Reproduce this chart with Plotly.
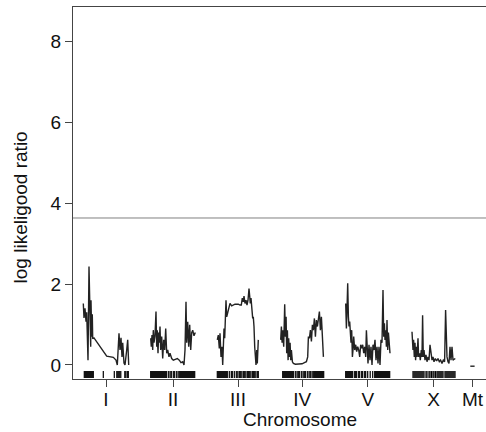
import plotly.graph_objects as go

# ---------------- data ----------------
chr_names = ["I", "II", "III", "IV", "V", "X", "Mt"]
chr_lengths = [45.4, 44.6, 41.4, 43.0, 44.3, 43.3, 4.3]
threshold = 3.63

# LOD profiles: positions (cM within chromosome) and values
pos_I = [0.0, 0.7, 1.7, 2.7, 3.4, 4.0, 4.7, 5.7, 6.4, 6.7, 7.4, 7.7, 8.4, 9.0, 9.4, 10.7, 13.4,
         20.0, 23.4, 30.0, 32.7, 34.0, 35.7, 36.7, 37.7, 38.7, 39.4, 40.7, 41.7, 43.4, 44.4, 45.4]
lod_I = [1.52, 1.16, 1.40, 1.07, 1.30, 0.86, 0.12, 2.43, 1.20, 1.69, 0.45, 1.60, 0.70, 1.25, 0.65, 0.67, 0.58,
         0.33, 0.22, 0.19, 0.12, 0.00, 0.78, 0.37, 0.67, 0.20, 0.55, 0.05, 0.00, 0.37, 0.62, 0.00]

pos_II = [0.0, 0.6, 1.3, 2.0, 2.6, 3.3, 4.3, 5.3, 6.0, 6.6, 7.3, 8.0, 8.6, 9.3, 10.0, 11.0, 12.0, 13.0, 14.0,
          15.0, 16.0, 17.0, 18.3, 19.3, 21.0, 22.6, 24.6, 26.6, 28.6, 30.3, 32.0, 33.3, 34.3, 35.3, 36.0,
          37.0, 38.0, 39.0, 40.0, 41.0, 42.0, 43.3, 44.6]
lod_II = [0.66, 0.45, 0.74, 0.37, 0.86, 0.55, 0.72, 1.32, 0.45, 0.86, 0.29, 0.80, 0.55, 0.95, 0.37, 0.70, 0.16,
          0.62, 0.37, 0.90, 0.29, 0.37, 0.20, 0.29, 0.16, 0.12, 0.14, 0.16, 0.12, 0.06, 0.08, 0.00, 0.37, 1.56,
          0.55, 1.07, 0.45, 0.99, 0.37, 0.80, 0.86, 0.72, 0.80]

pos_III = [0.0, 1.0, 2.0, 2.7, 3.7, 4.7, 5.4, 6.0, 6.7, 7.4, 8.0, 8.7, 9.4, 10.4, 11.4, 12.7, 14.4, 16.0,
           17.7, 19.4, 21.0, 22.7, 24.0, 25.0, 26.0, 26.7, 27.7, 28.7, 29.7, 30.7, 31.7, 32.4, 33.0, 33.7,
           34.7, 35.4, 36.0, 36.7, 37.4, 38.0, 38.7, 39.4, 40.0, 41.0]
lod_III = [0.62, 0.74, 0.41, 0.78, 0.20, 0.45, 0.00, 0.70, 0.90, 0.66, 1.19, 1.60, 1.19, 1.32, 1.44, 1.52,
           1.46, 1.48, 1.50, 1.50, 1.50, 1.48, 1.48, 1.65, 1.56, 1.70, 1.52, 1.60, 1.48, 1.60, 1.89, 1.70,
           1.52, 1.65, 1.28, 1.15, 1.19, 0.95, 0.45, 0.04, 0.00, 0.37, 0.04, 0.62]

pos_IV = [0.0, 0.7, 1.4, 2.0, 3.0, 4.0, 4.7, 5.4, 6.0, 6.7, 7.4, 8.0, 8.7, 9.4, 10.0, 10.7, 11.7, 12.7,
          14.7, 18.0, 21.4, 23.7, 25.7, 27.0, 27.7, 28.7, 29.7, 30.7, 31.7, 32.7, 33.7, 34.7, 35.7, 36.7,
          37.7, 38.7, 39.7, 40.7, 41.7, 42.7]
lod_IV = [0.62, 0.95, 0.55, 0.86, 0.45, 1.50, 0.70, 1.19, 0.29, 0.86, 0.12, 0.66, 0.20, 0.55, 0.12, 0.37,
          0.08, 0.04, 0.02, 0.02, 0.03, 0.06, 0.08, 0.20, 0.70, 0.66, 0.86, 0.58, 0.99, 0.86, 1.15, 0.70,
          1.11, 0.95, 1.15, 1.32, 0.86, 1.19, 0.70, 0.20]

pos_V = [0.0, 0.7, 1.3, 2.0, 2.7, 3.3, 4.0, 4.7, 5.3, 6.0, 6.7, 7.3, 8.0, 9.0, 10.0, 11.0, 12.0, 13.0,
         14.0, 15.0, 16.0, 17.0, 18.0, 19.0, 20.0, 20.7, 21.3, 22.3, 23.3, 24.3, 25.3, 26.3, 27.3, 28.3,
         29.3, 30.3, 31.3, 32.3, 33.3, 34.3, 35.3, 36.3, 37.3, 38.0, 38.7, 39.3, 40.0, 40.7, 41.3, 42.0,
         42.7, 43.3, 44.3]
lod_V = [1.52, 0.90, 1.36, 2.02, 1.19, 0.95, 1.07, 0.86, 0.55, 0.86, 0.20, 0.37, 0.70, 0.37, 0.50, 0.33,
         0.45, 0.37, 0.20, 0.50, 0.41, 0.50, 0.29, 0.45, 0.20, 0.86, 0.37, 0.04, 0.50, 0.12, 0.45, 0.00,
         0.50, 0.37, 0.62, 0.12, 0.45, 0.04, 0.45, 0.00, 0.62, 0.55, 1.85, 0.70, 1.03, 0.62, 0.86, 0.45,
         1.11, 0.37, 0.80, 0.45, 0.29]

pos_X = [0.0, 1.0, 1.6, 2.3, 3.0, 3.6, 4.3, 5.0, 6.0, 6.6, 7.6, 8.3, 9.3, 10.0, 10.6, 11.3, 12.0, 13.0,
         14.0, 15.0, 16.0, 17.0, 18.0, 19.0, 20.0, 21.0, 22.0, 23.3, 24.6, 26.0, 27.3, 28.6, 30.0, 31.3,
         32.6, 33.6, 34.3, 35.0, 36.0, 37.0, 38.0, 39.0, 40.0, 41.0, 42.0, 43.3]
lod_X = [0.82, 0.37, 0.62, 0.20, 0.55, 0.12, 0.45, 0.20, 0.66, 0.20, 0.29, 0.12, 0.37, 0.20, 1.23, 0.20,
         0.37, 0.12, 0.25, 0.08, 0.20, 0.12, 0.50, 0.20, 0.12, 0.20, 0.08, 0.16, 0.10, 0.16, 0.08, 0.12,
         0.04, 0.12, 0.08, 1.36, 0.37, 0.20, 0.08, 0.04, 0.45, 0.12, 0.45, 0.12, 0.14, 0.16]

pos_Mt = [0.0, 4.3]
lod_Mt = [-0.03, -0.03]

# genetic marker positions (rug), cM within chromosome
mk_I = [1, 2, 3, 4, 5, 6, 7, 8, 9, 10, 20, 31, 33.5, 34.5, 35.5, 36.5, 37.5, 41.5, 42.5, 44, 45]
mk_II = [0, 1, 2, 3, 4, 5, 6, 7, 8, 9, 10, 11, 12, 13, 14, 15, 16, 18, 19.5, 21, 23, 24, 26, 27.5,
         29, 30, 31, 32, 33, 34, 35, 36, 37, 38, 39, 40, 41, 42, 43, 44]
mk_III = [0, 1, 2, 3, 4, 5, 6, 7, 8, 9, 10, 12, 14, 15, 17, 19, 20.5, 22, 23, 24.5, 26, 27, 28.5,
          30, 31, 32, 33.5, 35, 36, 37, 38.5, 40, 41]
mk_IV = [2, 3, 4, 5, 6, 7, 8, 9, 10, 11, 12, 13, 15, 16.5, 18, 19, 21, 22.5, 24, 25, 27, 28.5, 30,
         31.5, 33, 34, 35, 36, 37, 38, 39, 40, 41, 42, 43]
mk_V = [0, 1, 2, 3, 4, 5, 6, 7, 9, 10, 11, 13, 14, 16, 17, 19, 20, 22, 24.5, 27, 29, 30, 31, 32, 33,
        34, 35, 36, 37, 38, 39, 40, 41, 42, 43, 44]
mk_X = [1, 2, 3, 4, 5, 6, 7, 8, 9, 10, 11, 12, 14, 15, 17, 18, 19.5, 21, 22, 23.5, 25, 26, 27, 28,
        29, 30, 31, 33, 34, 35, 36, 37, 38, 39, 40, 41, 42, 43]
mk_Mt = []

# ---------------- layout helpers ----------------
gaps_before = [10.3, 22, 22, 22, 22, 22, 15]
offsets = []
acc = 0.0
for g, L in zip(gaps_before, chr_lengths):
    acc += g
    offsets.append(acc)
    acc += L

positions = [pos_I, pos_II, pos_III, pos_IV, pos_V, pos_X, pos_Mt]
lods = [lod_I, lod_II, lod_III, lod_IV, lod_V, lod_X, lod_Mt]
markers = [mk_I, mk_II, mk_III, mk_IV, mk_V, mk_X, mk_Mt]

fig = go.Figure()

lx, ly = [], []
for off, p, v in zip(offsets, positions, lods):
    lx += [off + q for q in p] + [None]
    ly += list(v) + [None]
fig.add_trace(go.Scatter(x=lx, y=ly, mode="lines",
                         line=dict(color="#222222", width=1.4), hoverinfo="skip", showlegend=False))

rx, ry = [], []
for off, mk in zip(offsets, markers):
    for m in mk:
        rx += [off + m, off + m, None]
        ry += [-0.15, -0.32, None]
fig.add_trace(go.Scatter(x=rx, y=ry, mode="lines",
                         line=dict(color="#000000", width=1.2), hoverinfo="skip", showlegend=False))

tickvals = [off + L / 2 for off, L in zip(offsets, chr_lengths)]

font = "Liberation Sans, Arial, Helvetica, sans-serif"
fig.update_layout(
    width=486, height=432,
    margin=dict(l=73, r=0, t=7, b=53, autoexpand=False),
    paper_bgcolor="white", plot_bgcolor="white",
    font=dict(family=font, size=19, color="#111111"),
    showlegend=False,
    xaxis=dict(range=[0, 413], showgrid=False, zeroline=False, automargin=False,
               showline=True, linecolor="#444444", linewidth=1, mirror=True,
               tickmode="array", tickvals=tickvals, ticktext=chr_names,
               ticks="outside", ticklen=7, tickcolor="#444444", tickwidth=1,
               ticklabelstandoff=-4,
               tickfont=dict(size=19, family=font, color="#111111")),
    yaxis=dict(range=[-0.346, 8.84], showgrid=False, zeroline=False, automargin=False,
               showline=True, linecolor="#444444", linewidth=1,
               tickmode="array", tickvals=[0, 2, 4, 6, 8],
               ticks="outside", ticklen=7, tickcolor="#444444", tickwidth=1,
               tickfont=dict(size=19, family=font, color="#111111")),
    shapes=[dict(type="line", xref="paper", x0=0, x1=1, yref="y", y0=threshold, y1=threshold,
                 line=dict(color="#808080", width=1))],
    annotations=[
        dict(text="Chromosome", xref="paper", yref="paper", x=0.55, y=-0.11,
             xanchor="center", yanchor="middle", showarrow=False,
             font=dict(size=19, family=font, color="#111111")),
        dict(text="log likeligood ratio", xref="paper", yref="paper", x=-0.127, y=0.46,
             xanchor="center", yanchor="middle", textangle=-90, showarrow=False,
             font=dict(size=19, family=font, color="#111111")),
    ],
)

fig.write_html("out.html", config={"displayModeBar": False},
               post_script="document.body.style.margin='0';document.body.style.overflow='hidden';")
